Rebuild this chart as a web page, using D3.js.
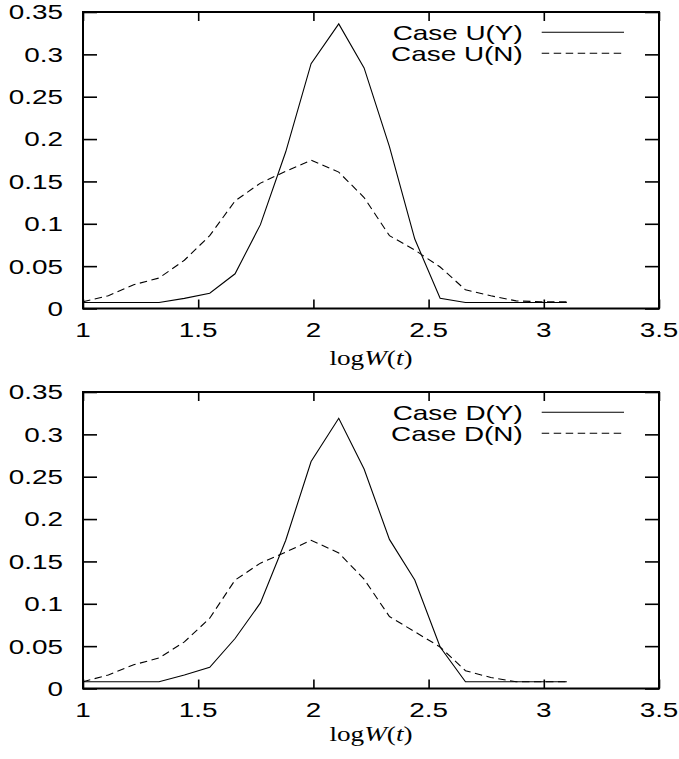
<!DOCTYPE html>
<html>
<head>
<meta charset="utf-8">
<script src="https://cdn.jsdelivr.net/npm/d3@7"></script>
<style>
  html, body { margin: 0; padding: 0; background: #fff; }
  svg { display: block; }
</style>
</head>
<body>
<svg id="chart" width="679" height="759"></svg>
<script>
// ---- data ----
const xValues = [1.00,1.11,1.22,1.33,1.44,1.55,1.66,1.77,1.88,1.99,2.11,2.22,2.33,2.44,2.55,2.66,2.77,2.88,2.99,3.10];
const caseUY = [0.007,0.007,0.007,0.007,0.012,0.018,0.041,0.099,0.185,0.289,0.336,0.284,0.191,0.082,0.012,0.007,0.007,0.007,0.007,0.007];
const caseUN = [0.008,0.015,0.028,0.036,0.057,0.086,0.127,0.148,0.162,0.175,0.161,0.131,0.086,0.069,0.049,0.022,0.015,0.009,0.008,0.008];
const caseDY = [0.008,0.008,0.008,0.008,0.016,0.025,0.059,0.101,0.175,0.268,0.319,0.259,0.176,0.128,0.049,0.008,0.008,0.008,0.008,0.008];
const caseDN = [0.008,0.016,0.028,0.036,0.055,0.083,0.128,0.148,0.161,0.175,0.160,0.129,0.085,0.067,0.049,0.021,0.013,0.008,0.008,0.008];
const xTicks = [1, 1.5, 2, 2.5, 3, 3.5];
const xTickLabels = ["1", "1.5", "2", "2.5", "3", "3.5"];
const yTicks = [0, 0.05, 0.1, 0.15, 0.2, 0.25, 0.3, 0.35];
const yTickLabels = ["0", "0.05", "0.1", "0.15", "0.2", "0.25", "0.3", "0.35"];
const topNames = ["Case U(Y)", "Case U(N)"];
const bottomNames = ["Case D(Y)", "Case D(N)"];

// ---- layout ----
const svg = d3.select("#chart");
const SX = 1.36;           // horizontal stretch of text (as in source)
const FONT = "'Liberation Sans', Arial, Helvetica, sans-serif";
const FS = 20.5;
const plotLeft = 83, plotRight = 659;
const dash = "7.5,4.5";

const panels = [
  { top: 12,  bottom: 308.5, xlabelY: 365, series: [caseUY, caseUN], names: topNames },
  { top: 392, bottom: 688.5, xlabelY: 741, series: [caseDY, caseDN], names: bottomNames }
];

const x = d3.scaleLinear().domain([1, 3.5]).range([plotLeft, plotRight]);

function stretchedText(parent, px, py, str, anchor, dy) {
  const g = parent.append("g").attr("transform", `translate(${px},${py}) scale(${SX},1)`);
  return g.append("text")
    .attr("x", 0).attr("y", 0)
    .attr("dy", dy || 0)
    .attr("text-anchor", anchor)
    .attr("font-family", FONT)
    .attr("font-size", FS)
    .attr("fill", "#000")
    .text(str);
}

panels.forEach(p => {
  const y = d3.scaleLinear().domain([0, 0.35]).range([p.bottom, p.top]);
  const g = svg.append("g");

  // ticks (mirrored, inward)
  const axB = d3.axisBottom(x).tickValues(xTicks).tickSizeInner(-9).tickSizeOuter(0).tickFormat("");
  const axT = d3.axisTop(x).tickValues(xTicks).tickSizeInner(-9).tickSizeOuter(0).tickFormat("");
  const axL = d3.axisLeft(y).tickValues(yTicks).tickSizeInner(-14).tickSizeOuter(0).tickFormat("");
  const axR = d3.axisRight(y).tickValues(yTicks).tickSizeInner(-14).tickSizeOuter(0).tickFormat("");
  [
    [axB, `translate(0,${p.bottom})`],
    [axT, `translate(0,${p.top})`],
    [axL, `translate(${plotLeft},0)`],
    [axR, `translate(${plotRight},0)`]
  ].forEach(([ax, tr]) => {
    const a = g.append("g").attr("transform", tr).call(ax);
    a.select(".domain").remove();
    a.selectAll(".tick line").attr("stroke", "#000").attr("stroke-width", 1.6);
  });

  // border
  g.append("rect")
    .attr("x", plotLeft).attr("y", p.top)
    .attr("width", plotRight - plotLeft).attr("height", p.bottom - p.top)
    .attr("fill", "none").attr("stroke", "#000").attr("stroke-width", 2);

  // tick labels
  xTicks.forEach((v, i) => stretchedText(g, x(v), p.bottom + 28.2, xTickLabels[i], "middle"));
  yTicks.forEach((v, i) => stretchedText(g, plotLeft - 20, y(v), yTickLabels[i], "end", "0.36em"));

  // x label
  const xl = g.append("g").attr("transform", `translate(${(plotLeft + plotRight) / 2},${p.xlabelY}) scale(${SX},1)`)
    .append("text").attr("text-anchor", "middle")
    .attr("font-family", "'Liberation Serif', 'Times New Roman', serif")
    .attr("font-size", 20).attr("fill", "#000");
  xl.append("tspan").text("log");
  xl.append("tspan").attr("font-style", "italic").text("W");
  xl.append("tspan").text("(");
  xl.append("tspan").attr("font-style", "italic").text("t");
  xl.append("tspan").text(")");

  // series lines
  const line = d3.line().x((d, i) => x(xValues[i])).y(d => y(d));
  p.series.forEach((s, k) => {
    g.append("path")
      .datum(s)
      .attr("d", line)
      .attr("fill", "none")
      .attr("stroke", "#000")
      .attr("stroke-width", 1.1)
      .attr("stroke-dasharray", k === 1 ? dash : null);
  });

  // legend
  p.names.forEach((name, k) => {
    const ly = p.top + 20.3 + k * 21;
    stretchedText(g, 522.7, ly + 7.7, name, "end");
    g.append("line")
      .attr("x1", 541.7).attr("x2", 624)
      .attr("y1", ly).attr("y2", ly)
      .attr("stroke", "#000").attr("stroke-width", 1.1)
      .attr("stroke-dasharray", k === 1 ? dash : null);
  });
});
</script>
</body>
</html>
